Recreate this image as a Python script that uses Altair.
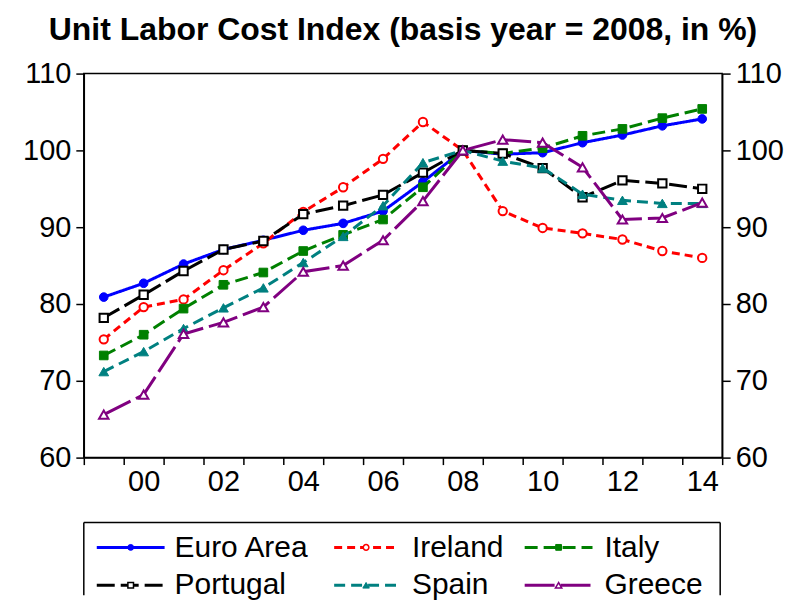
import altair as alt
import pandas as pd

# ---------------- data ----------------
years = list(range(1999, 2015))
euro_area = [80.9, 82.7, 85.2, 87.1, 88.3, 89.6, 90.5, 92.1, 95.9, 100.0, 99.5, 99.7, 101.0, 102.0, 103.2, 104.1]
ireland = [75.4, 79.6, 80.6, 84.4, 87.9, 92.0, 95.2, 98.9, 103.7, 100.0, 92.1, 89.9, 89.2, 88.4, 86.9, 86.0]
italy = [73.3, 76.0, 79.4, 82.5, 84.1, 86.9, 89.0, 91.0, 95.2, 100.0, 99.6, 100.3, 101.9, 102.8, 104.2, 105.4]
portugal = [78.2, 81.2, 84.3, 87.1, 88.2, 91.7, 92.8, 94.2, 97.1, 100.0, 99.6, 97.7, 93.9, 96.1, 95.7, 95.0]
spain = [71.2, 73.8, 76.8, 79.5, 82.1, 85.4, 88.8, 92.8, 98.4, 100.0, 98.6, 97.7, 94.3, 93.5, 93.1, 93.1]
greece = [65.6, 68.2, 76.1, 77.6, 79.6, 84.2, 85.0, 88.3, 93.4, 100.0, 101.4, 101.0, 97.8, 91.0, 91.2, 93.2]

series_names = ["Euro Area", "Ireland", "Italy", "Portugal", "Spain", "Greece"]
series_values = [euro_area, ireland, italy, portugal, spain, greece]
y_ticks = [60, 70, 80, 90, 100, 110]

# styles
colors = ["#0000FF", "#FF0000", "#008000", "#000000", "#008080", "#800080"]
dashes = [[1, 0], [8, 5], [13, 6], [18, 6], [11, 6], [30, 6]]
shapes = ["circle", "circle", "square", "square", "triangle-up", "triangle-up"]
hollow = [False, True, False, True, False, True]
sizes = [75, 70, 75, 70, 95, 90]

rows = []
for name, vals in zip(series_names, series_values):
    for yr, v in zip(years, vals):
        rows.append({"series": name, "year": yr, "value": v})
df = pd.DataFrame(rows)

FONT = "Liberation Sans"
W, H = 640, 385

x_ticks = [y - 0.5 for y in range(1999, 2016)]
label_expr = "(datum.value + 0.5) % 2 === 0 ? substring(toString(datum.value + 0.5), 2, 4) : ''"

x_enc = alt.X(
    "year:Q",
    scale=alt.Scale(domain=[1998.5, 2014.5], nice=False, zero=False),
    axis=alt.Axis(values=x_ticks, labelExpr=label_expr, labelOffset=20, tickSize=7,
                  labelPadding=3, labelFlush=False, labelOverlap=False, title=None, grid=False),
)
y_scale = alt.Scale(domain=[60, 110], nice=False, zero=False)
left_axis = alt.Axis(values=y_ticks, orient="left", tickSize=8, labelPadding=5,
                     title=None, grid=False, labelOverlap=False)
right_axis = alt.Axis(values=y_ticks, orient="right", tickSize=8, labelPadding=5,
                      title=None, grid=False, labelOverlap=False)

layers = []
for i, name in enumerate(series_names):
    base = alt.Chart(df).transform_filter(alt.datum.series == name)
    line = base.mark_line(color=colors[i], strokeWidth=3, strokeDash=dashes[i]).encode(
        x=x_enc,
        y=alt.Y("value:Q", scale=y_scale, axis=left_axis if i == 0 else None),
    )
    pts = base.mark_point(
        shape=shapes[i], size=sizes[i], filled=True,
        fill="white" if hollow[i] else colors[i],
        stroke=colors[i], strokeWidth=2 if hollow[i] else 1, opacity=1,
    ).encode(
        x=x_enc,
        y=alt.Y("value:Q", scale=y_scale, axis=right_axis if i == 0 else None),
    )
    layers += [line, pts]

main = alt.layer(*layers).resolve_axis(y="independent").properties(
    width=W, height=H,
    title=alt.TitleParams(
        "Unit Labor Cost Index (basis year = 2008, in %)",
        font=FONT, fontSize=32, fontWeight="bold", color="black",
        anchor="middle", frame="group", offset=13,
    ),
)

# ---------------- legend panel ----------------
LW, LH = 638, 73
leg_col = [0, 1, 2, 0, 1, 2]
leg_row = [0, 0, 0, 1, 1, 1]
leg_line_start = [13, 251, 442]
leg_line_end = [81, 315, 510]
leg_text_start = [91, 329, 522]
leg_line_y = [25, 63]
leg_text_y = [35, 72]

leg_df = pd.DataFrame({
    "series": series_names,
    "x0": [leg_line_start[c] for c in leg_col],
    "x1": [leg_line_end[c] for c in leg_col],
    "xm": [(leg_line_start[c] + leg_line_end[c]) / 2 for c in leg_col],
    "xt": [leg_text_start[c] for c in leg_col],
    "ly": [leg_line_y[r] for r in leg_row],
    "ty": [leg_text_y[r] for r in leg_row],
})
lx = alt.Scale(domain=[0, LW], nice=False, zero=False)
ly = alt.Scale(domain=[0, LH], nice=False, zero=False, reverse=True)

leg_layers = []
for i, name in enumerate(series_names):
    b = alt.Chart(leg_df).transform_filter(alt.datum.series == name)
    leg_layers.append(
        b.mark_rule(color=colors[i], strokeWidth=3, strokeDash=dashes[i]).encode(
            x=alt.X("x0:Q", scale=lx, axis=None), x2="x1:Q",
            y=alt.Y("ly:Q", scale=ly, axis=None))
    )
    leg_layers.append(
        b.mark_point(shape=shapes[i], size=sizes[i] * 0.45, filled=True,
                     fill="white" if hollow[i] else colors[i], stroke=colors[i],
                     strokeWidth=1.5 if hollow[i] else 1, opacity=1).encode(
            x=alt.X("xm:Q", scale=lx, axis=None),
            y=alt.Y("ly:Q", scale=ly, axis=None))
    )
leg_layers.append(
    alt.Chart(leg_df).mark_text(align="left", baseline="alphabetic", font=FONT,
                                fontSize=30, color="black").encode(
        x=alt.X("xt:Q", scale=lx, axis=None),
        y=alt.Y("ty:Q", scale=ly, axis=None),
        text="series:N")
)
box = alt.Chart(pd.DataFrame({"k": [0]}))
leg_layers += [
    box.mark_rule(color="black", strokeWidth=1.5).encode(x=alt.value(0), x2=alt.value(LW), y=alt.value(0)),
    box.mark_rule(color="black", strokeWidth=1.5).encode(x=alt.value(0), y=alt.value(0), y2=alt.value(LH)),
    box.mark_rule(color="black", strokeWidth=1.5).encode(x=alt.value(LW), y=alt.value(0), y2=alt.value(LH)),
]
legend = alt.layer(*leg_layers).properties(
    width=LW, height=LH, view=alt.ViewBackground(stroke="transparent"))

chart = alt.vconcat(main, legend, spacing=65, bounds="flush").properties(
    padding={"left": 13, "top": 4, "right": 5, "bottom": 0},
).configure_view(stroke="black", strokeWidth=1.5).configure_axis(
    domainColor="black", domainWidth=1.5, tickColor="black", tickWidth=1.5,
    labelFont=FONT, labelFontSize=29, labelColor="black",
)

chart.save("out.html", embed_options={"renderer": "svg", "actions": False})
